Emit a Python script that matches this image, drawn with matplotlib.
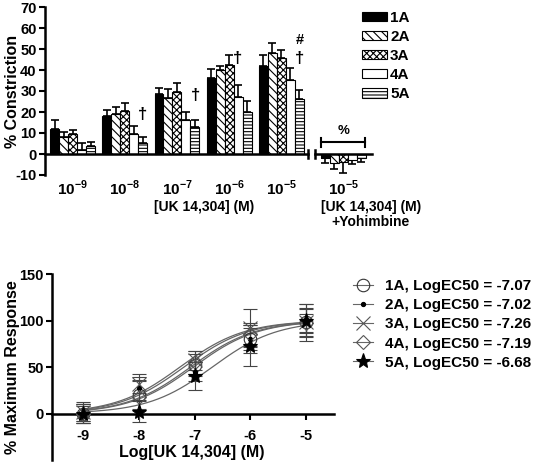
import numpy as np
import matplotlib
matplotlib.use("Agg")
import matplotlib.pyplot as plt
from matplotlib.patches import Patch
from matplotlib.lines import Line2D

plt.rcParams['font.family'] = ['Liberation Sans', 'DejaVu Sans']
plt.rcParams['font.weight'] = 'bold'
plt.rcParams['hatch.linewidth'] = 0.8
plt.rcParams['axes.unicode_minus'] = False
plt.rcParams['mathtext.fontset'] = 'custom'
plt.rcParams['mathtext.rm'] = 'Liberation Sans:bold'
plt.rcParams['mathtext.bf'] = 'Liberation Sans:bold'

# ---------------- dados: painel superior (barras) ----------------
groups = ["1A", "2A", "3A", "4A", "5A"]
conc_labels = ["$10^{-9}$", "$10^{-8}$", "$10^{-7}$", "$10^{-6}$", "$10^{-5}$"]
bar_1A = [12, 18, 28.5, 36, 42]
bar_2A = [8, 19, 26.5, 40, 48]
bar_3A = [9.5, 20.5, 29.5, 42.5, 45.5]
bar_4A = [2, 9.5, 16, 27, 35]
bar_5A = [4, 5, 13, 20, 26]
err_1A = [4, 3, 3, 4.5, 5]
err_2A = [2.5, 3.5, 4.5, 2, 5]
err_3A = [2, 4, 4.5, 4.5, 4]
err_4A = [3, 4, 4, 6, 6]
err_5A = [1.5, 3, 3, 5, 4.5]
# +Yohimbine (10^-5)
yoh_vals = [-2, -4.5, -4, -3, -2]
yoh_err = [2.5, 2.5, 5, 2, 2]

# ---------------- dados: painel inferior (curvas) ----------------
log_conc = [-9, -8, -7, -6, -5]
resp_1A = [0, 20, 52, 80, 98]
resp_2A = [0, 27, 45, 80, 100]
resp_3A = [2, 32, 57, 92, 98]
resp_4A = [0, 18, 55, 85, 97]
resp_5A = [0, 2, 40, 73, 100]
sem_1A = [10, 15, 12, 15, 15]
sem_2A = [8, 12, 10, 12, 12]
sem_3A = [10, 10, 10, 20, 20]
sem_4A = [10, 18, 12, 12, 10]
sem_5A = [10, 11, 15, 22, 18]
log_ec50 = [-7.07, -7.02, -7.26, -7.19, -6.68]
hill_slope = 0.75

fig = plt.figure(figsize=(5.35, 4.65), dpi=100)

# ================= painel superior =================
ax1 = fig.add_axes([45 / 535, 1 - 175 / 465, 327 / 535, 168 / 465])
bars = [bar_1A, bar_2A, bar_3A, bar_4A, bar_5A]
errs = [err_1A, err_2A, err_3A, err_4A, err_5A]
faces = ["black", "white", "white", "white", "white"]
hatches = [None, "\\\\\\\\", "xxxxx", None, "-----"]
w = 0.172
x = np.arange(5)
x_yoh = 5.19

for i in range(5):
    xi = x + (i - 2) * w
    ax1.bar(xi, bars[i], w, color=faces[i], edgecolor="black", linewidth=0.8,
            hatch=hatches[i], zorder=2)
    ax1.errorbar(xi, bars[i], yerr=[np.zeros(5), errs[i]], fmt="none",
                 ecolor="black", elinewidth=1.2, capsize=3, capthick=1.2, zorder=1)
    xy = x_yoh + (i - 2) * w
    ax1.bar(xy, yoh_vals[i], w, color=faces[i], edgecolor="black", linewidth=0.8,
            hatch=hatches[i], zorder=2)
    ax1.errorbar(xy, yoh_vals[i], yerr=[[yoh_err[i]], [0]], fmt="none",
                 ecolor="black", elinewidth=1.2, capsize=3, capthick=1.2, zorder=1)

ax1.set_xlim(-0.53, 5.74)
ax1.set_ylim(-10, 70)
ax1.set_yticks(np.arange(-10, 71, 10))
ax1.tick_params(axis="y", labelsize=10.5, width=1.5, length=4, pad=2)
ax1.tick_params(axis="x", bottom=False, labelbottom=False)
for s in ["top", "right", "bottom"]:
    ax1.spines[s].set_visible(False)
ax1.spines["left"].set_linewidth(1.8)
ax1.set_ylabel("% Constriction", fontsize=11.5, fontweight="bold")
ax1.yaxis.set_label_coords(-0.076, 0.5)

# eixo x com quebra
ax1.plot([-0.53, 4.51], [0, 0], color="black", lw=1.8, clip_on=False, zorder=3)
ax1.plot([4.65, 5.74], [0, 0], color="black", lw=1.8, clip_on=False, zorder=3)
ax1.plot([4.51, 4.51], [-2, 2], color="black", lw=1.8, zorder=3)
ax1.plot([4.65, 4.65], [-2, 2], color="black", lw=1.8, zorder=3)

# rótulos do eixo x
for xi, lab in zip(x, conc_labels):
    ax1.text(xi, -19.5, lab, ha="center", va="baseline", fontsize=11)
ax1.text(x_yoh, -19.5, conc_labels[-1], ha="center", va="baseline", fontsize=11)
ax1.text(2.52, -27, "[UK 14,304] (M)", ha="center", va="baseline", fontsize=10)
ax1.text(5.72, -27, "[UK 14,304] (M)", ha="center", va="baseline", fontsize=10)
ax1.text(5.72, -34.5, "+Yohimbine", ha="center", va="baseline", fontsize=10)

# símbolos de significância
ax1.text(1.34, 18.6, "†", ha="center", va="center", fontsize=12)
ax1.text(2.35, 28, "†", ha="center", va="center", fontsize=12)
ax1.text(3.17, 45.5, "†", ha="center", va="center", fontsize=12)
ax1.text(4.36, 45.5, "†", ha="center", va="center", fontsize=12)
ax1.text(4.36, 54.5, "#", ha="center", va="center", fontsize=10.5)
# barra do %
ax1.plot([x_yoh - 0.42, x_yoh + 0.42], [5.5, 5.5], color="black", lw=1.5)
ax1.plot([x_yoh - 0.42, x_yoh - 0.42], [3.5, 7.5], color="black", lw=1.5)
ax1.plot([x_yoh + 0.42, x_yoh + 0.42], [3.5, 7.5], color="black", lw=1.5)
ax1.text(x_yoh, 11, "%", ha="center", va="center", fontsize=9.5)

handles1 = [Patch(facecolor=faces[i], edgecolor="black", hatch=hatches[i], linewidth=0.8)
            for i in range(5)]
fig.legend(handles1, groups, loc="upper left", bbox_to_anchor=(0.677, 0.976),
           frameon=False, fontsize=11, handlelength=1.63, handleheight=0.55,
           labelspacing=0.33, handletextpad=0.2, borderpad=0, borderaxespad=0)

# ================= painel inferior =================
ax2 = fig.add_axes([52 / 535, 1 - 460 / 465, 282 / 535, 186 / 465])
resps = [resp_1A, resp_2A, resp_3A, resp_4A, resp_5A]
sems = [sem_1A, sem_2A, sem_3A, sem_4A, sem_5A]
markers = ["o", ".", "x", "D", "*"]
msizes = [9, 6, 10, 7, 11]
mfaces = ["none", "black", "none", "none", "black"]
medges = ["#333333", "black", "#555555", "#555555", "black"]

xc = np.linspace(-9, -5, 200)
for i in range(5):
    yc = 100 / (1 + 10 ** ((log_ec50[i] - xc) * hill_slope))
    ax2.plot(xc, yc, color="#666666", lw=0.9, zorder=1)
    ax2.errorbar(log_conc, resps[i], yerr=sems[i], fmt="none", ecolor="#444444",
                 elinewidth=0.8, capsize=5, capthick=0.8, zorder=2)
    ax2.plot(log_conc, resps[i], linestyle="none", marker=markers[i],
             markersize=msizes[i], markerfacecolor=mfaces[i],
             markeredgecolor=medges[i], markeredgewidth=0.8, zorder=3)

ax2.set_xlim(-9.556, -4.5)
ax2.set_ylim(-50, 150)
ax2.set_yticks([0, 50, 100, 150])
ax2.set_xticks(log_conc)
ax2.spines["top"].set_visible(False)
ax2.spines["right"].set_visible(False)
ax2.spines["bottom"].set_position(("data", 0))
ax2.spines["left"].set_linewidth(1.8)
ax2.spines["bottom"].set_linewidth(1.8)
ax2.tick_params(axis="both", labelsize=10.5, width=1.5, length=4, pad=2)
ax2.tick_params(axis="x", pad=7)
ax2.set_ylabel("% Maximum Response", fontsize=11.5, fontweight="bold")
ax2.yaxis.set_label_coords(-0.113, 0.5)
ax2.text(-7.05, -42, "Log[UK 14,304] (M)", ha="center", va="center", fontsize=11.5)

labels2 = [f"{g}, LogEC50 = {e:.2f}" for g, e in zip(groups, log_ec50)]
handles2 = [Line2D([0], [0], color="#666666", lw=0.8, marker=markers[i],
                   markersize=msizes[i], markerfacecolor=mfaces[i],
                   markeredgecolor=medges[i], markeredgewidth=0.8)
            for i in range(5)]
fig.legend(handles2, labels2, loc="upper left", bbox_to_anchor=(0.660, 0.400),
           frameon=False, fontsize=11, handlelength=1.3, labelspacing=0.34,
           handletextpad=0.8, borderpad=0, borderaxespad=0)

fig.savefig("out.png", dpi=100)
